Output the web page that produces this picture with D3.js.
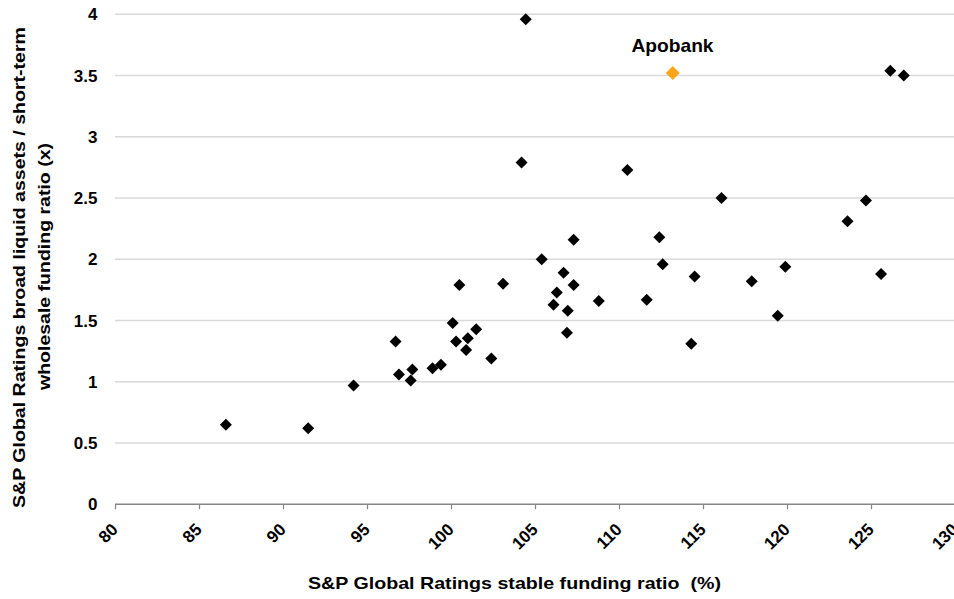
<!DOCTYPE html>
<html><head><meta charset="utf-8">
<script src="https://cdn.jsdelivr.net/npm/d3@7"></script>
<style>body{margin:0;background:#fff}svg{display:block;font-family:"Liberation Sans",Arial,sans-serif}</style>
</head><body>
<script>
const xValues = [86.6,91.5,94.2,96.7,96.9,97.6,97.7,98.9,99.4,100.1,100.3,100.5,100.9,101.0,101.5,102.4,103.1,104.2,104.45,105.4,106.1,106.3,106.7,106.95,106.9,107.3,107.3,108.8,110.5,111.65,112.4,112.6,114.3,114.5,116.1,117.9,119.45,119.9,123.6,124.7,125.6,126.15,126.95];
const yValues = [0.65,0.62,0.97,1.33,1.06,1.01,1.10,1.11,1.14,1.48,1.33,1.79,1.26,1.355,1.43,1.19,1.80,2.79,3.96,2.00,1.63,1.73,1.89,1.58,1.40,1.79,2.16,1.66,2.73,1.67,2.18,1.96,1.31,1.86,2.50,1.82,1.54,1.94,2.31,2.48,1.88,3.54,3.50];
const highlight = {name:"Apobank", x:113.2, y:3.52};
const xTicks = [80,85,90,95,100,105,110,115,120,125,130];
const yTicks = [0,0.5,1,1.5,2,2.5,3,3.5,4];
const xTitle = "S&P Global Ratings stable funding ratio  (%)";
const yTitleLines = ["S&P Global Ratings broad liquid assets / short-term","wholesale funding ratio (x)"];

const W=954,H=599;
const svg=d3.select("body").append("svg").attr("width",W).attr("height",H);
const x=d3.scaleLinear().domain([80,130]).range([115,955]);
const y=d3.scaleLinear().domain([0,4]).range([504.3,14.3]);

// gridlines
svg.append("g").selectAll("line").data(yTicks.filter(d=>d>0)).join("line")
  .attr("x1",x(80)).attr("x2",W).attr("y1",d=>y(d)).attr("y2",d=>y(d))
  .attr("stroke","#d9d9d9").attr("stroke-width",1.5);

// y tick labels
svg.append("g").selectAll("text").data(yTicks).join("text")
  .attr("x",97.5).attr("y",d=>y(d)+6.1).attr("text-anchor","end")
  .attr("font-size",17).attr("font-weight","bold").attr("fill","#000")
  .text(d=>d3.format("")(d));

// x axis
const xa=svg.append("g").attr("transform",`translate(0,${y(0)})`)
  .call(d3.axisBottom(x).tickValues(xTicks).tickSize(5).tickFormat(""));
xa.select(".domain").attr("stroke","#868686").attr("stroke-width",1.5).attr("d",`M${x(80)},0H${W}`);
xa.selectAll(".tick line").attr("stroke","#868686").attr("stroke-width",1.2);

svg.append("g").selectAll("text").data(xTicks).join("text")
  .attr("transform",d=>`translate(${x(d)+4},530.5) rotate(-45)`)
  .attr("text-anchor","end").attr("font-size",17).attr("font-weight","bold")
  .text(d=>d);

// axis titles
svg.append("text").attr("x",514.5).attr("y",589).attr("text-anchor","middle")
  .attr("font-size",17).attr("font-weight","bold").attr("xml:space","preserve").style("white-space","pre")
  .attr("textLength",413).attr("lengthAdjust","spacingAndGlyphs").text(xTitle);
svg.append("text").attr("transform","translate(25,267.5) rotate(-90)").attr("text-anchor","middle")
  .attr("font-size",17).attr("font-weight","bold")
  .attr("textLength",481).attr("lengthAdjust","spacingAndGlyphs").text(yTitleLines[0]);
svg.append("text").attr("transform","translate(50,266.5) rotate(-90)").attr("text-anchor","middle")
  .attr("font-size",17).attr("font-weight","bold")
  .attr("textLength",247).attr("lengthAdjust","spacingAndGlyphs").text(yTitleLines[1]);

// points
const diamond=r=>`M0,${-r}L${r},0L0,${r}L${-r},0Z`;
svg.append("g").selectAll("path").data(xValues.map((v,i)=>[v,yValues[i]])).join("path")
  .attr("transform",d=>`translate(${x(d[0])},${y(d[1])})`)
  .attr("d",diamond(6)).attr("fill","#000");

svg.append("path").attr("transform",`translate(${x(highlight.x)},${y(highlight.y)})`)
  .attr("d",diamond(7)).attr("fill","#FFA519");
svg.append("text").attr("x",672.5).attr("y",51.5).attr("text-anchor","middle")
  .attr("font-size",18.5).attr("font-weight","bold")
  .attr("textLength",82).attr("lengthAdjust","spacingAndGlyphs").text(highlight.name);
</script>
</body></html>
